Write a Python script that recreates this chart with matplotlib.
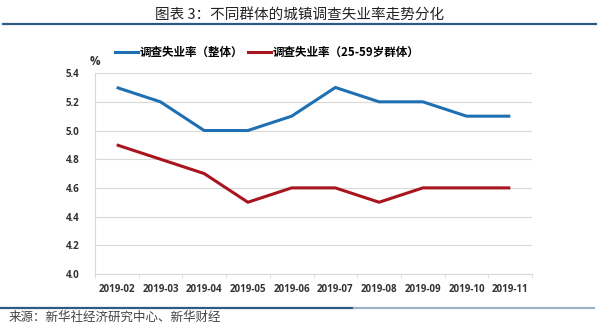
import matplotlib
matplotlib.use("Agg")
import matplotlib.pyplot as plt
from matplotlib.lines import Line2D

plt.rcParams['font.family'] = ['Noto Sans CJK SC', 'DejaVu Sans']

months = ["2019-02", "2019-03", "2019-04", "2019-05", "2019-06",
          "2019-07", "2019-08", "2019-09", "2019-10", "2019-11"]
overall = [5.3, 5.2, 5.0, 5.0, 5.1, 5.3, 5.2, 5.2, 5.1, 5.1]
age_25_59 = [4.9, 4.8, 4.7, 4.5, 4.6, 4.6, 4.5, 4.6, 4.6, 4.6]
series_names = ["调查失业率（整体）", "调查失业率（25-59岁群体）"]
yticks = [4.0, 4.2, 4.4, 4.6, 4.8, 5.0, 5.2, 5.4]

blue = "#1F70B2"
red = "#A8151E"
num_font = ['Open Sans', 'DejaVu Sans']

fig = plt.figure(figsize=(6, 3.25), dpi=100)
ax = fig.add_axes([0.158, 0.157, 0.729, 0.618])
x = list(range(len(months)))
ax.plot(x, overall, color=blue, lw=2.2, solid_capstyle='butt')
ax.plot(x, age_25_59, color=red, lw=2.2, solid_capstyle='butt')

ax.set_xlim(-0.5, len(months) - 0.5)
ax.set_ylim(4.0, 5.4)
ax.set_yticks(yticks)
ax.set_yticklabels([f"{v:.1f}" for v in yticks], fontsize=7, color="#333333",
                   family=num_font, fontweight='bold')
ax.set_xticks(x)
ax.set_xticklabels(months, fontsize=7, color="#333333", family=num_font,
                   fontweight='bold')
ax.tick_params(axis='x', length=0, pad=7)
ax.tick_params(axis='y', length=0, pad=11)
ax.set_xticks([i - 0.5 for i in range(len(months) + 1)], minor=True)
ax.tick_params(axis='x', which='minor', length=3, color="#D9D9D9")
ax.yaxis.grid(True, color="#D9D9D9", lw=0.8)
ax.set_axisbelow(True)
for s in ['top', 'right']:
    ax.spines[s].set_visible(False)
ax.spines['left'].set_color("#D9D9D9")
ax.spines['bottom'].set_color("#D9D9D9")

fig.text(0.158, 0.81, "%", fontsize=8.5, color="#333333", ha='center', va='center',
         family=num_font, fontweight='bold')

handles = [Line2D([0], [0], color=blue, lw=2.2), Line2D([0], [0], color=red, lw=2.2)]
fig.legend(handles, series_names, loc='center', bbox_to_anchor=(0.445, 0.838), ncol=2,
           frameon=False, handlelength=2.0, handletextpad=0.15,
           columnspacing=0.4, prop={'size': 8.3, 'weight': 'bold'})

fig.text(0.5, 0.955, "图表 3：不同群体的城镇调查失业率走势分化", fontsize=10.5,
         ha='center', va='center', color="#222222")
fig.add_artist(Line2D([0.005, 0.993], [0.925, 0.925], color="#2E5A87", lw=1.6,
                      transform=fig.transFigure))
fig.add_artist(Line2D([0.0, 0.59], [0.052, 0.052], color="#2E5A87", lw=1.6,
                      transform=fig.transFigure))
fig.add_artist(Line2D([0.59, 0.99], [0.052, 0.052], color="#9FB3C8", lw=1.6,
                      transform=fig.transFigure))
fig.text(0.015, 0.025, "来源：新华社经济研究中心、新华财经", fontsize=9,
         ha='left', va='center', color="#444444")

fig.savefig("out.png", dpi=100)
